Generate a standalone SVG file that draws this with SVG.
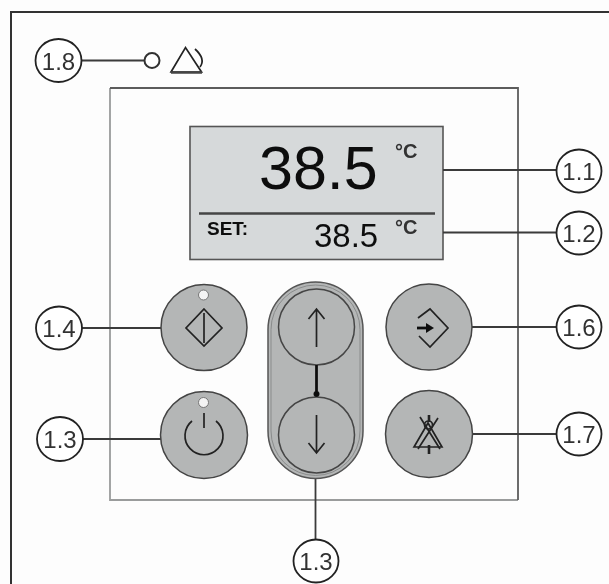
<svg xmlns="http://www.w3.org/2000/svg" width="609" height="584" viewBox="0 0 609 584">
<defs>
<style>
text{font-family:"Liberation Sans",Arial,sans-serif;fill:#111}
.ln{fill:none;stroke:#3a3a3a;stroke-width:1.8}
.call{fill:#fff;stroke:#222;stroke-width:1.8}
.ct{font-size:24px;text-anchor:middle;fill:#333}
.btn{fill:#b4b6b6;stroke:#444;stroke-width:1.5}
.ic{fill:none;stroke:#222;stroke-width:1.7}
.led{fill:#f4f4f4;stroke:#777;stroke-width:1}
.unit{font-size:20px;font-weight:bold;fill:#333}
</style>
<filter id="soft" x="-2%" y="-2%" width="104%" height="104%"><feGaussianBlur stdDeviation="0.5"/></filter>
</defs>
<rect width="609" height="584" fill="#fdfdfd"/>
<g filter="url(#soft)">
<path id="frame" d="M11 584V12H609" fill="none" stroke="#333" stroke-width="2"/>
<path id="panel-bottom-left" d="M518 500H110V88" fill="none" stroke="#9a9c9c" stroke-width="1.8"/>
<path id="panel-top-right" d="M110 88H518V500" fill="none" stroke="#5c5c5c" stroke-width="1.8"/>
<g id="display">
<rect x="190" y="126.500" width="253" height="133" fill="#d6d9da" stroke="#555" stroke-width="1.6"/>
<path d="M199 213.500H435" stroke="#444" stroke-width="2.400"/>
<text x="259" y="189" font-size="61">38.5</text>
<text class="unit" x="395" y="158">°C</text>
<text x="207" y="235" font-size="19" font-weight="bold" fill="#333">SET:</text>
<text x="314" y="246.500" font-size="33" fill="#333">38.5</text>
<text class="unit" x="395" y="234">°C</text>
</g>
<g id="connectors">
<path class="ln" d="M81 60.500H145"/>
<path class="ln" d="M443 170H557"/>
<path class="ln" d="M443 232.500H557"/>
<path class="ln" d="M82 328H161" stroke-width="2.200"/>
<path class="ln" d="M83 439H161" stroke-width="2.200"/>
<path class="ln" d="M472 327H557"/>
<path class="ln" d="M472 434H557"/>
<path class="ln" d="M315.500 478V540" stroke-width="2.200"/>
</g>
<g id="led-1-8">
<circle cx="152" cy="60.500" r="7.500" fill="#fff" stroke="#333" stroke-width="2"/>
<path class="ic" d="M171 72L185.500 47.500L201.500 72Z"/>
<path d="M171 72.500H202" stroke="#444" stroke-width="2.500"/>
<path class="ic" d="M195 49Q206 59 200 67" stroke="#555" stroke-width="2"/>
</g>
<g id="btn-1-4">
<circle class="btn" cx="204" cy="327.500" r="43"/>
<circle class="led" cx="203.500" cy="295" r="5"/>
<path class="ic" d="M204 309L222 328L204 346L186 328Z"/>
<path class="ic" d="M204 313V343"/>
</g>
<g id="btn-1-3">
<circle class="btn" cx="204" cy="435" r="43.500"/>
<circle class="led" cx="203.500" cy="402.500" r="5"/>
<path class="ic" d="M192 421A19 19 0 1 0 216 421"/>
<path class="ic" d="M204 413V428"/>
</g>
<g id="btn-up-down">
<rect x="268" y="282" width="95" height="196.500" rx="47.500" fill="#b4b6b6" stroke="#555" stroke-width="1.500"/>
<rect x="271" y="285" width="89" height="190.500" rx="44.500" fill="none" stroke="#8a8c8c" stroke-width="1"/>
<circle class="btn" cx="316.500" cy="327" r="38"/>
<circle class="btn" cx="316.500" cy="435" r="38"/>
<path class="ic" d="M316.500 309V347M308.500 319L316.500 309L324.500 319"/>
<path class="ic" d="M316.500 415V453M308.500 443L316.500 453L324.500 443"/>
<path d="M316.500 365V392" stroke="#111" stroke-width="2.800"/>
<circle cx="316.500" cy="394" r="3" fill="#111"/>
</g>
<g id="btn-1-6">
<circle class="btn" cx="429" cy="327" r="43"/>
<path class="ic" d="M418 318L430 309L448 328L430 347L419 336"/>
<path d="M417 328H428" stroke="#111" stroke-width="2.800"/>
<path d="M426 323L434 328L426 333Z" fill="#111"/>
</g>
<g id="btn-1-7">
<circle class="btn" cx="429" cy="434" r="43.500"/>
<path class="ic" d="M414 447L428 423L442 447Z" stroke-width="1.600"/>
<path class="ic" d="M420 417L440 449M438 418L418 449" stroke-width="1.500"/>
<circle class="ic" cx="428.500" cy="425" r="4" stroke-width="1.300"/>
<path d="M429 415V422M429 445V454" stroke="#222" stroke-width="2.600"/>
</g>
<g id="callout-1-8"><ellipse class="call" cx="58.500" cy="60.500" rx="23" ry="21.500"/><text class="ct" x="58.500" y="69.500">1.8</text></g>
<g id="callout-1-1"><ellipse class="call" cx="579" cy="171" rx="22.500" ry="21.500"/><text class="ct" x="579" y="180">1.1</text></g>
<g id="callout-1-2"><ellipse class="call" cx="579" cy="233" rx="22.500" ry="21.500"/><text class="ct" x="579" y="242">1.2</text></g>
<g id="callout-1-4"><ellipse class="call" cx="59" cy="328" rx="23" ry="21.500"/><text class="ct" x="59" y="337">1.4</text></g>
<g id="callout-1-3a"><ellipse class="call" cx="60" cy="439" rx="23" ry="22"/><text class="ct" x="60" y="448">1.3</text></g>
<g id="callout-1-6"><ellipse class="call" cx="579" cy="327" rx="22.500" ry="21.500"/><text class="ct" x="579" y="336">1.6</text></g>
<g id="callout-1-7"><ellipse class="call" cx="579" cy="434" rx="22.500" ry="21.500"/><text class="ct" x="579" y="443">1.7</text></g>
<g id="callout-1-3b"><ellipse class="call" cx="316" cy="561" rx="22.500" ry="21.500"/><text class="ct" x="316" y="570">1.3</text></g>
</g>
</svg>
